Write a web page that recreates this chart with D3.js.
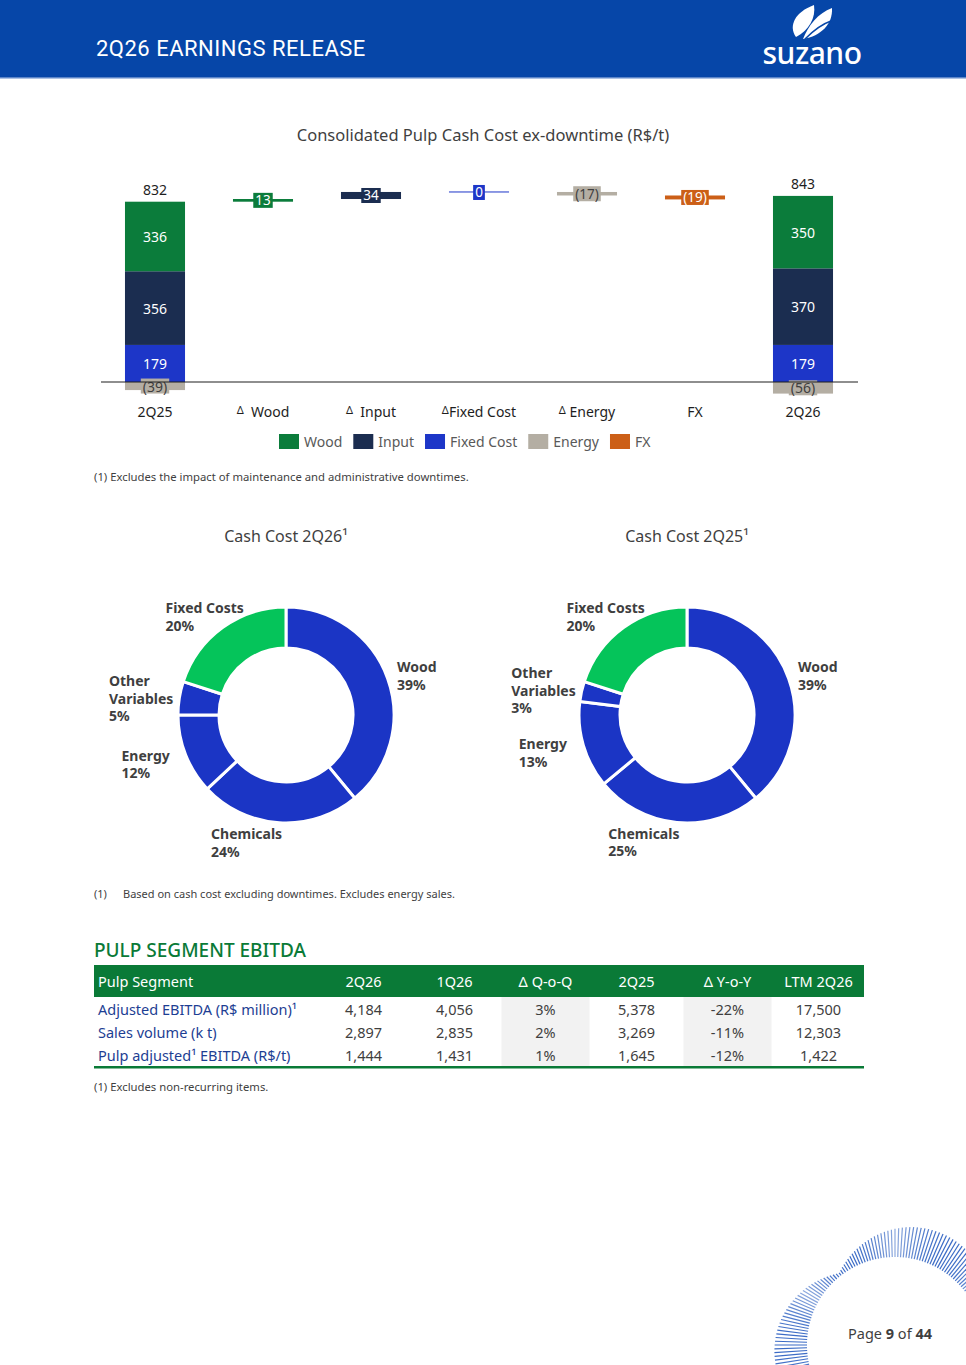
<!DOCTYPE html>
<html>
<head>
<meta charset="utf-8">
<script src="https://cdn.jsdelivr.net/npm/d3@7"></script>
<style>
  body { margin: 0; background: #fff; }
  svg { display: block; font-family: "Noto Sans", "Open Sans", sans-serif; }
</style>
</head>
<body>
<svg id="page" width="966" height="1365"></svg>
<script>
// ---- waterfall data (R$/t) ----
const wfCategories = ["2Q25", "Wood", "Input", "Fixed Cost", "Energy", "FX", "2Q26"];
const wfSeries = ["Wood", "Input", "Fixed Cost", "Energy", "FX"];
const wfColors = ["#0b7c3b", "#1b2d50", "#1d36c8", "#b4aea3", "#cc5f17"];
const stack2Q25 = [336, 356, 179, -39];   // Wood, Input, Fixed Cost, Energy
const stack2Q26 = [350, 370, 179, -56];
const totals = [832, 843];
const deltas = [13, 34, 0, -17, -19];     // Wood, Input, Fixed Cost, Energy, FX

// ---- donut data (%) ----
const donutSlices = ["Wood", "Chemicals", "Energy", "Other Variables", "Fixed Costs"];
const share2Q26 = [39, 24, 12, 5, 20];
const share2Q25 = [39, 25, 13, 3, 20];

// ---- table data ----
const tableHeader = ["Pulp Segment", "2Q26", "1Q26", "\u0394 Q-o-Q", "2Q25", "\u0394 Y-o-Y", "LTM 2Q26"];
const rowLabels = ["Adjusted EBITDA (R$ million)\u00b9", "Sales volume (k t)", "Pulp adjusted\u00b9 EBITDA (R$/t)"];
const rowValues = [
  ["4,184", "4,056", "3%", "5,378", "-22%", "17,500"],
  ["2,897", "2,835", "2%", "3,269", "-11%", "12,303"],
  ["1,444", "1,431", "1%", "1,645", "-12%", "1,422"]
];

const svg = d3.select("#page");
const textDark = "#3f3f3f";

// ================= header =================
svg.append("rect").attr("x", 0).attr("y", 0).attr("width", 966).attr("height", 77).attr("fill", "#0646a8");
svg.append("rect").attr("x", 0).attr("y", 77).attr("width", 966).attr("height", 1.5).attr("fill", "#5d86c9");
svg.append("text")
  .attr("x", 96).attr("y", 56)
  .attr("fill", "#fff")
  .style("font-family", "'Roboto', sans-serif")
  .style("font-size", "22px")
  .style("letter-spacing", "0.5px")
  .text("2Q26 EARNINGS RELEASE");

// logo leaves + wordmark
const logo = svg.append("g").attr("fill", "#fff");
logo.append("path").attr("d", "M796,37 C788,26 795,12 814,5 C816,18 809,30 796,37 Z");
logo.append("path").attr("d", "M803,39 C808,26 818,13 832,8 C833,24 821,36 803,39 Z");
logo.append("path").attr("d", "M805,39 C813,31 822,24 831,21").attr("fill", "none").attr("stroke", "#0646a8").attr("stroke-width", 1.5);
svg.append("text")
  .attr("x", 812).attr("y", 64)
  .attr("text-anchor", "middle")
  .attr("fill", "#fff")
  .style("font-size", "30px")
  .style("font-weight", 500)
  .style("letter-spacing", "-0.5px")
  .text("suzano");

// ================= waterfall =================
svg.append("text")
  .attr("x", 483).attr("y", 141)
  .attr("text-anchor", "middle")
  .attr("fill", textDark)
  .style("font-size", "16.5px")
  .text("Consolidated Pulp Cash Cost ex-downtime (R$/t)");

const x = d3.scaleBand().domain(wfCategories).range([101, 857]).paddingInner(0.444).paddingOuter(0.222);
const y = d3.scaleLinear().domain([0, 1000]).range([382, 175]);
const color = d3.scaleOrdinal().domain(wfSeries).range(wfColors);
const wf = svg.append("g");

// label with a coloured box behind it
function boxLabel(g, cx, cy, txt, fill, ink, size) {
  const t = g.append("text")
    .attr("x", cx).attr("y", cy)
    .attr("text-anchor", "middle")
    .attr("dominant-baseline", "central")
    .attr("fill", ink)
    .style("font-size", size + "px")
    .text(txt);
  const w = t.node().getComputedTextLength();
  g.insert("rect", () => t.node())
    .attr("x", cx - w / 2 - 2).attr("y", cy - 7.5)
    .attr("width", w + 4).attr("height", 15)
    .attr("fill", fill);
}

const fmt = v => v < 0 ? `(${Math.abs(v)})` : `${v}`;

function drawStack(cat, values, total) {
  const bx = x(cat), bw = x.bandwidth();
  // positive stack from bottom: Fixed Cost, Input, Wood
  let base = 0;
  [2, 1, 0].forEach(i => {
    const v = values[i];
    wf.append("rect")
      .attr("x", bx).attr("width", bw)
      .attr("y", y(base + v)).attr("height", y(base) - y(base + v))
      .attr("fill", color(wfSeries[i]));
    wf.append("text")
      .attr("x", bx + bw / 2).attr("y", (y(base) + y(base + v)) / 2)
      .attr("text-anchor", "middle").attr("dominant-baseline", "central")
      .attr("fill", "#fff").style("font-size", "14px")
      .text(v);
    base += v;
  });
  // negative energy below zero
  const e = values[3];
  wf.append("rect")
    .attr("x", bx).attr("width", bw)
    .attr("y", y(0)).attr("height", y(e) - y(0))
    .attr("fill", color("Energy"));
  boxLabel(wf, bx + bw / 2, (y(0) + y(e)) / 2, fmt(e), color("Energy"), textDark, 14);
  wf.append("text")
    .attr("x", bx + bw / 2).attr("y", y(base) - 7)
    .attr("text-anchor", "middle")
    .attr("fill", "#1e1e1e").style("font-size", "14px")
    .text(total);
  return base;
}

let level = drawStack("2Q25", stack2Q25, totals[0]);

deltas.forEach((d, i) => {
  const cat = wfCategories[i + 1];
  const bx = x(cat), bw = x.bandwidth();
  const top = y(Math.max(level, level + d));
  const h = Math.max(1, Math.abs(y(level) - y(level + d)));
  wf.append("rect")
    .attr("x", bx).attr("width", bw)
    .attr("y", d === 0 ? top - 0.5 : top).attr("height", h)
    .attr("fill", color(wfSeries[i]));
  const ink = wfSeries[i] === "Energy" ? textDark : "#fff";
  boxLabel(wf, bx + bw / 2, top + h / 2, fmt(d), color(wfSeries[i]), ink, 13.5);
  level += d;
});

drawStack("2Q26", stack2Q26, totals[1]);

wf.append("line")
  .attr("x1", 101).attr("x2", 858)
  .attr("y1", y(0)).attr("y2", y(0))
  .attr("stroke", "#1e1e1e").attr("stroke-width", 1.2);

// category labels (delta sign small and raised)
wfCategories.forEach((c, i) => {
  const t = wf.append("text")
    .attr("x", x(c) + x.bandwidth() / 2).attr("y", 417)
    .attr("text-anchor", "middle")
    .attr("fill", "#1e1e1e").style("font-size", "14px");
  if (i > 0 && i < 6 && c !== "FX") {
    t.append("tspan").style("font-size", "11px").attr("dy", -3).text("\u0394");
    t.append("tspan").attr("dy", 3).text((c === "Fixed Cost" ? "" : c === "Energy" ? " " : "\u00a0\u00a0") + c);
  } else {
    t.text(c);
  }
});

// legend
const legend = svg.append("g");
let lx = 279;
wfSeries.forEach(s => {
  legend.append("rect").attr("x", lx).attr("y", 434).attr("width", 20).attr("height", 15).attr("fill", color(s));
  const t = legend.append("text")
    .attr("x", lx + 25).attr("y", 446.5)
    .attr("fill", "#595959").style("font-size", "14px")
    .text(s);
  lx += 25 + t.node().getComputedTextLength() + 11;
});

svg.append("text")
  .attr("x", 94).attr("y", 481)
  .attr("fill", textDark).style("font-size", "11.3px")
  .text("(1) Excludes the impact of maintenance and administrative downtimes.");

// ================= donuts =================
const pie = d3.pie().sort(null).value(d => d).startAngle(0);
const arc = d3.arc().innerRadius(67).outerRadius(108);
const sliceColor = name => name === "Fixed Costs" ? "#05c45a" : "#1b35c5";

function drawDonut(cx, cy, title, shares) {
  const g = svg.append("g");
  g.append("text")
    .attr("x", cx).attr("y", 542)
    .attr("text-anchor", "middle")
    .attr("fill", textDark).style("font-size", "16px")
    .text(title);
  const arcs = pie(shares);
  const ring = g.append("g").attr("transform", `translate(${cx},${cy})`);
  ring.selectAll("path").data(arcs).join("path")
    .attr("d", arc)
    .attr("fill", (d, i) => sliceColor(donutSlices[i]))
    .attr("stroke", "#fff").attr("stroke-width", 3);

  arcs.forEach((a, i) => {
    const mid = (a.startAngle + a.endAngle) / 2;
    const s = Math.sin(mid), c = Math.cos(mid);
    const rx = Math.abs(c) < 0.24 ? 114 : (s < -0.3 ? 125 : 118);
    const px = cx + rx * s, py = cy - 125 * c;
    const name = donutSlices[i];
    const lines = (name === "Other Variables" ? name.split(" ") : [name]).concat([shares[i] + "%"]);
    const lh = 17.5;
    const t = g.append("text")
      .attr("fill", textDark)
      .style("font-size", "14px").style("font-weight", 700);
    lines.forEach((ln, j) => t.append("tspan").attr("x", 0).attr("y", j * lh).text(ln));
    const bb = t.node().getBBox();
    let left;
    if (s > 0.3) left = px;
    else if (c > 0.5) left = px - bb.width * 0.6;
    else if (c < -0.5) left = px - bb.width * 0.95;
    else left = px - bb.width;
    const topY = py - (lines.length * lh) / 2 + 17;
    t.attr("transform", `translate(${left},${topY})`);
  });
}

drawDonut(286, 715, "Cash Cost 2Q26\u00b9", share2Q26);
drawDonut(687, 715, "Cash Cost 2Q25\u00b9", share2Q25);

const fn2 = svg.append("text").attr("y", 898).attr("fill", textDark).style("font-size", "11px");
fn2.append("tspan").attr("x", 94).text("(1)");
fn2.append("tspan").attr("x", 123).text("Based on cash cost excluding downtimes. Excludes energy sales.");

// ================= table =================
const green = "#0a7a37";
svg.append("text")
  .attr("x", 94).attr("y", 957)
  .attr("fill", green)
  .style("font-size", "19px").style("font-weight", 500)
  .text("PULP SEGMENT EBITDA");

const colX = d3.scaleBand().domain(tableHeader.slice(1)).range([318, 864]);
const rowY = d3.scalePoint().domain(rowLabels).range([1010, 1056]);
const tbl = svg.append("g");

// shaded delta columns
["\u0394 Q-o-Q", "\u0394 Y-o-Y"].forEach(c => {
  tbl.append("rect")
    .attr("x", colX(c) + 1.5).attr("width", colX.bandwidth() - 3)
    .attr("y", 997).attr("height", 69)
    .attr("fill", "#f2f2f2");
});

tbl.append("rect").attr("x", 94).attr("y", 965).attr("width", 770).attr("height", 32).attr("fill", green);
tableHeader.forEach((h, i) => {
  tbl.append("text")
    .attr("x", i === 0 ? 98 : colX(h) + colX.bandwidth() / 2)
    .attr("y", 986.5)
    .attr("text-anchor", i === 0 ? "start" : "middle")
    .attr("fill", "#fff").style("font-size", "14.5px")
    .text(h);
});

rowLabels.forEach((lab, r) => {
  const yy = rowY(lab) + 5;
  tbl.append("text")
    .attr("x", 98).attr("y", yy)
    .attr("fill", "#1d3e93").style("font-size", "14.5px")
    .text(lab);
  rowValues[r].forEach((v, c) => {
    const col = tableHeader[c + 1];
    tbl.append("text")
      .attr("x", colX(col) + colX.bandwidth() / 2).attr("y", yy)
      .attr("text-anchor", "middle")
      .attr("fill", textDark).style("font-size", "14.5px")
      .text(v);
  });
});
tbl.append("rect").attr("x", 94).attr("y", 1066).attr("width", 770).attr("height", 2.5).attr("fill", green);

svg.append("text")
  .attr("x", 94).attr("y", 1091)
  .attr("fill", textDark).style("font-size", "11.3px")
  .text("(1) Excludes non-recurring items.");

// ================= footer ornament =================
const orn = svg.append("g").attr("stroke", "#2f62c2").attr("stroke-width", 1.2);
d3.range(0, 360, 1.8).forEach(deg => {
  const th = deg * Math.PI / 180;
  const len = 3 + 30 * Math.abs(Math.sin((deg - 128) * Math.PI / 180 * 1.5));
  const r0 = 88, r1 = 88 + len;
  orn.append("line")
    .attr("x1", 895 + r0 * Math.cos(th)).attr("y1", 1345 - r0 * Math.sin(th))
    .attr("x2", 895 + r1 * Math.cos(th)).attr("y2", 1345 - r1 * Math.sin(th))
    .attr("stroke-opacity", 0.55 + 0.4 * Math.abs(Math.cos(th * 3)));
});

const pg = svg.append("text")
  .attr("x", 932).attr("y", 1339)
  .attr("text-anchor", "end")
  .attr("fill", textDark).style("font-size", "14.5px");
pg.append("tspan").text("Page ");
pg.append("tspan").style("font-weight", 700).text("9");
pg.append("tspan").text(" of ");
pg.append("tspan").style("font-weight", 700).text("44");
</script>
</body>
</html>
